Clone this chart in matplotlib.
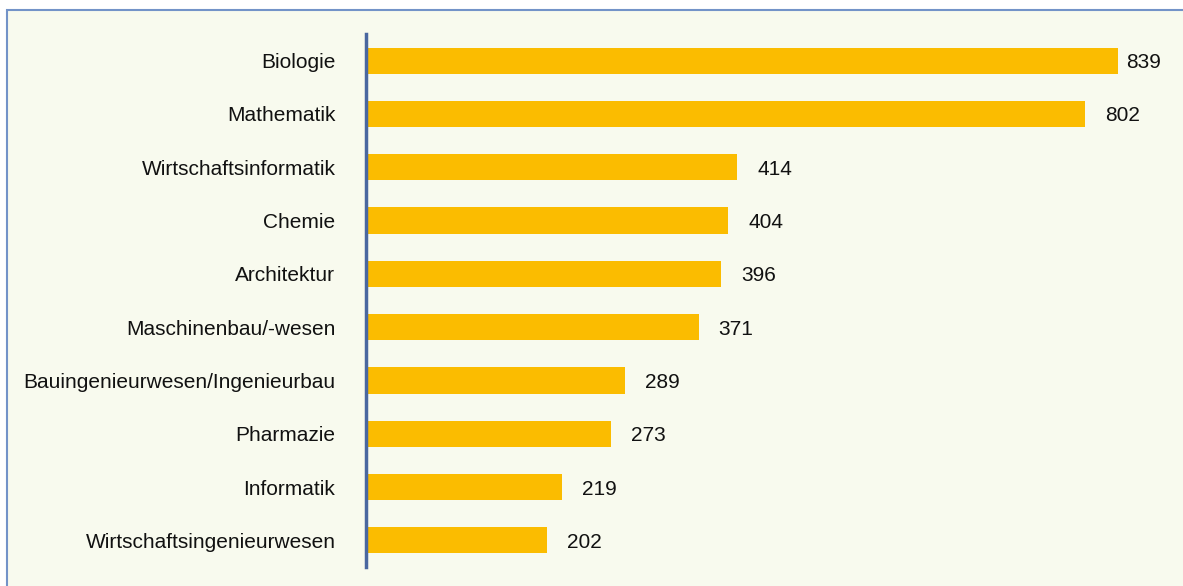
import matplotlib
matplotlib.use("Agg")
import matplotlib.pyplot as plt
from matplotlib.patches import Rectangle

categories = ["Biologie", "Mathematik", "Wirtschaftsinformatik", "Chemie", "Architektur",
              "Maschinenbau/-wesen", "Bauingenieurwesen/Ingenieurbau", "Pharmazie",
              "Informatik", "Wirtschaftsingenieurwesen"]
values = [839, 802, 414, 404, 396, 371, 289, 273, 219, 202]

plt.rcParams['font.family'] = ['Liberation Sans', 'DejaVu Sans']

W, H = 1183, 586
fig = plt.figure(figsize=(W / 100, H / 100), dpi=100)
fig.patch.set_facecolor("white")

# chart area frame
frame = Rectangle((7 / W, -0.05), 1.2, 1 - 10 / H + 0.05, transform=fig.transFigure,
                  facecolor="#F8FAEE", edgecolor="#7393C8", linewidth=1.5, zorder=-10)
fig.patches.append(frame)

left = 366 / W
right = 1170 / W
top = 1 - 34 / H
bottom = 1 - 567 / H
ax = fig.add_axes([left, bottom, right - left, top - bottom], zorder=5)
ax.set_facecolor("none")

y = list(range(len(categories)))
ax.barh(y, values, height=0.49, color="#FBBC00", zorder=2)
ax.set_ylim(len(categories) - 0.5, -0.5)
xmax = (1170 - 366) / ((1118 - 366) / 839)
ax.set_xlim(0, xmax)

ax.set_yticks(y)
ax.set_yticklabels(categories, fontsize=15, color="#111111", va="center_baseline")
ax.tick_params(axis="y", length=0, pad=22)
ax.set_xticks([])

for s in ["top", "right", "bottom"]:
    ax.spines[s].set_visible(False)
ax.spines["left"].set_color("#4A67A0")
ax.spines["left"].set_linewidth(2.5)

for i, v in enumerate(values):
    off = 8 if v == max(values) else 20
    ax.annotate(str(v), (v, i), xytext=(off * 0.72, 0), textcoords="offset points",
                va="center_baseline", ha="left", fontsize=15, color="#111111")

fig.savefig("out.png", dpi=100)
